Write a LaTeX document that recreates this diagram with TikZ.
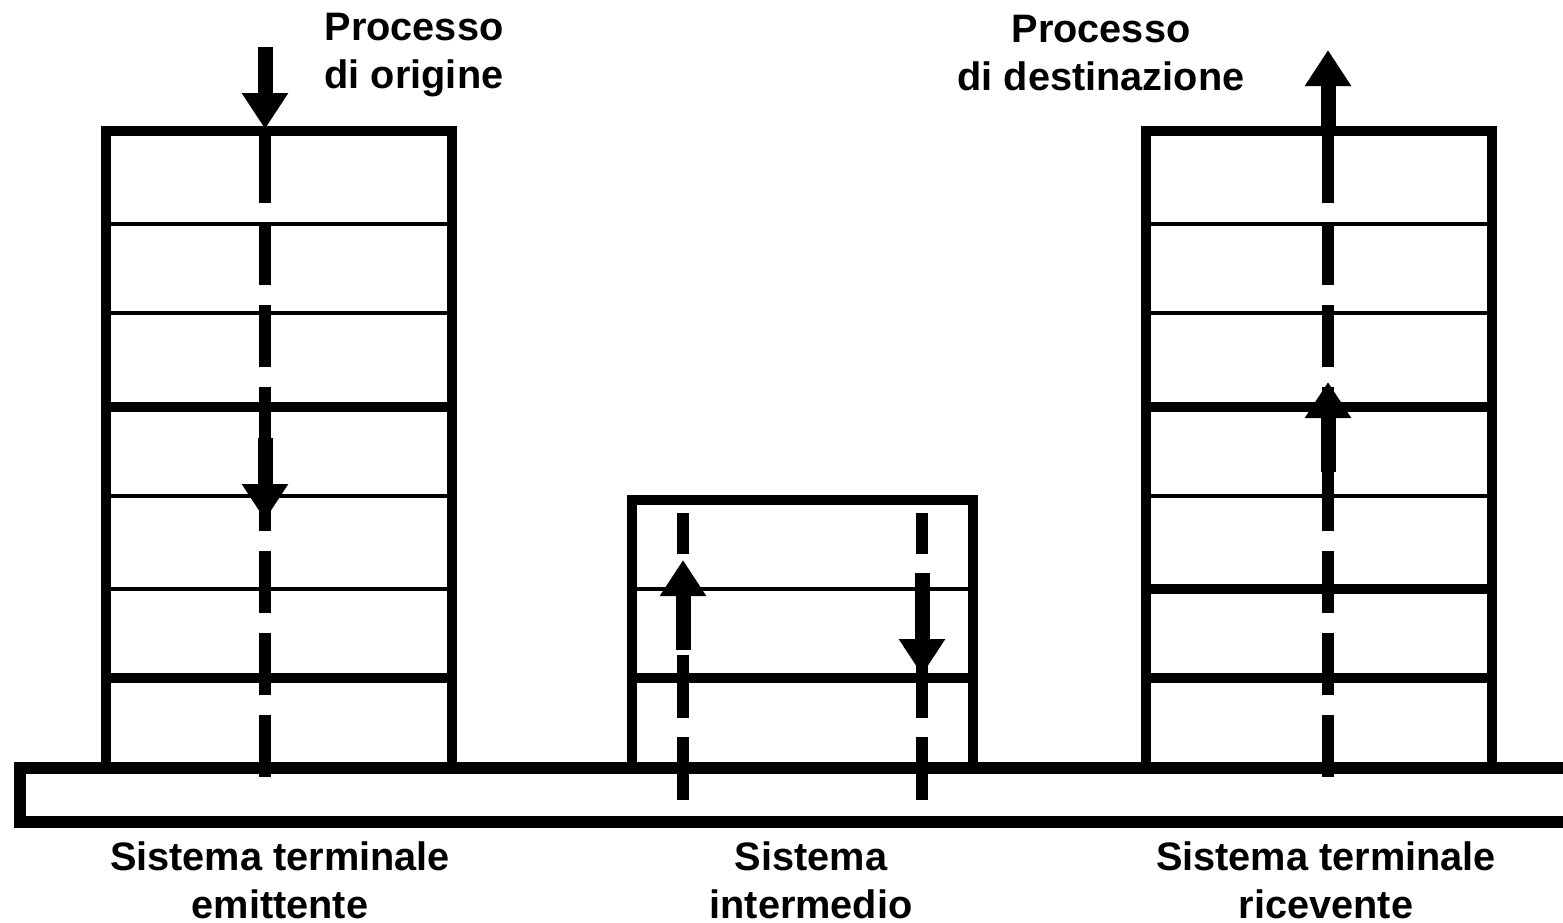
\documentclass[tikz,border=0pt]{standalone}
\usepackage{fontspec}
\setmainfont{Liberation Sans}
\usetikzlibrary{arrows.meta,positioning,calc}

\begin{document}
\begin{tikzpicture}[
    x=0.1mm, y=-0.1mm,
    frame/.style={line width=1mm},
    thinlayer/.style={line width=0.45mm},
    thicklayer/.style={line width=0.95mm},
    flow/.style={line width=1.2mm, dash pattern=on 6.2mm off 2mm},
    arrow/.style={-{Triangle[length=3.6mm, width=4.4mm]}, line width=1.5mm},
    caption/.style={align=center, font=\fontsize{11.3pt}{13.7pt}\selectfont\bfseries}
]
\clip (0,0) rectangle (1563,922);

% Sistema terminale emittente (7 layers)
\draw[frame] (106,131) rectangle (452,768);
\foreach \y in {224,313,496,589} \draw[thinlayer] (106,\y) -- (452,\y);
\foreach \y in {407,678} \draw[thicklayer] (106,\y) -- (452,\y);

% Sistema intermedio (3 layers)
\draw[frame] (632,500) rectangle (973,768);
\draw[thinlayer] (632,589) -- (973,589);
\draw[thicklayer] (632,678) -- (973,678);

% Sistema terminale ricevente (7 layers)
\draw[frame] (1146,131) rectangle (1492,768);
\foreach \y in {224,313,496} \draw[thinlayer] (1146,\y) -- (1492,\y);
\foreach \y in {407,589,678} \draw[thicklayer] (1146,\y) -- (1492,\y);

% Physical medium
\draw[line width=1.2mm] (20,768) rectangle (1620,822);

% Data path coordinates
\coordinate (srcIn)   at (265,47);
\coordinate (srcTop)  at (265,129);
\coordinate (srcBot)  at (265,777);
\coordinate (srcA)    at (265,438);
\coordinate (srcB)    at (265,520);
\coordinate (upBot)   at (683,800);
\coordinate (upTop)   at (683,513);
\coordinate (upA)     at (683,650);
\coordinate (upB)     at (683,560);
\coordinate (downBot) at (922,800);
\coordinate (downTop) at (922,513);
\coordinate (downA)   at (922,573);
\coordinate (downB)   at (922,675);
\coordinate (dstBot)  at (1328,777);
\coordinate (dstTop)  at (1328,131);
\coordinate (dstOut)  at (1328,50);
\coordinate (dstA)    at (1328,472);
\coordinate (dstB)    at (1328,382);

% Dashed paths through the layers
\draw[flow] (srcBot) -- (srcTop);
\draw[line width=1.2mm] (srcTop) -- ++(0,16);
\draw[flow, dash pattern=on 6.3mm off 1.9mm] (upBot) -- (upTop);
\draw[flow, dash pattern=on 6.3mm off 1.9mm] (downBot) -- (downTop);
\draw[flow] (dstBot) -- (dstTop);
\draw[line width=1.2mm] (dstTop) -- ++(0,14);

% Direction arrows
\draw[arrow] (srcIn) -- (srcTop);
\draw[arrow] (srcA) -- (srcB);
\draw[arrow] (upA) -- (upB);
\draw[arrow] (downA) -- (downB);
\draw[arrow] (dstA) -- (dstB);
\draw[arrow] (dstTop) -- (dstOut);

% Labels
\node[caption] (procSrc) at (414,55) {Processo\\di origine};
\node[caption] (procDst) at (1101,53) {Processo\\di destinazione};
\node[caption] (endSend) at (280,880) {Sistema terminale\\emittente};
\node[caption] (midSys)  at (811,880) {Sistema\\intermedio};
\node[caption] (endRecv) at (1326,880) {Sistema terminale\\ricevente};

\end{tikzpicture}
\end{document}
